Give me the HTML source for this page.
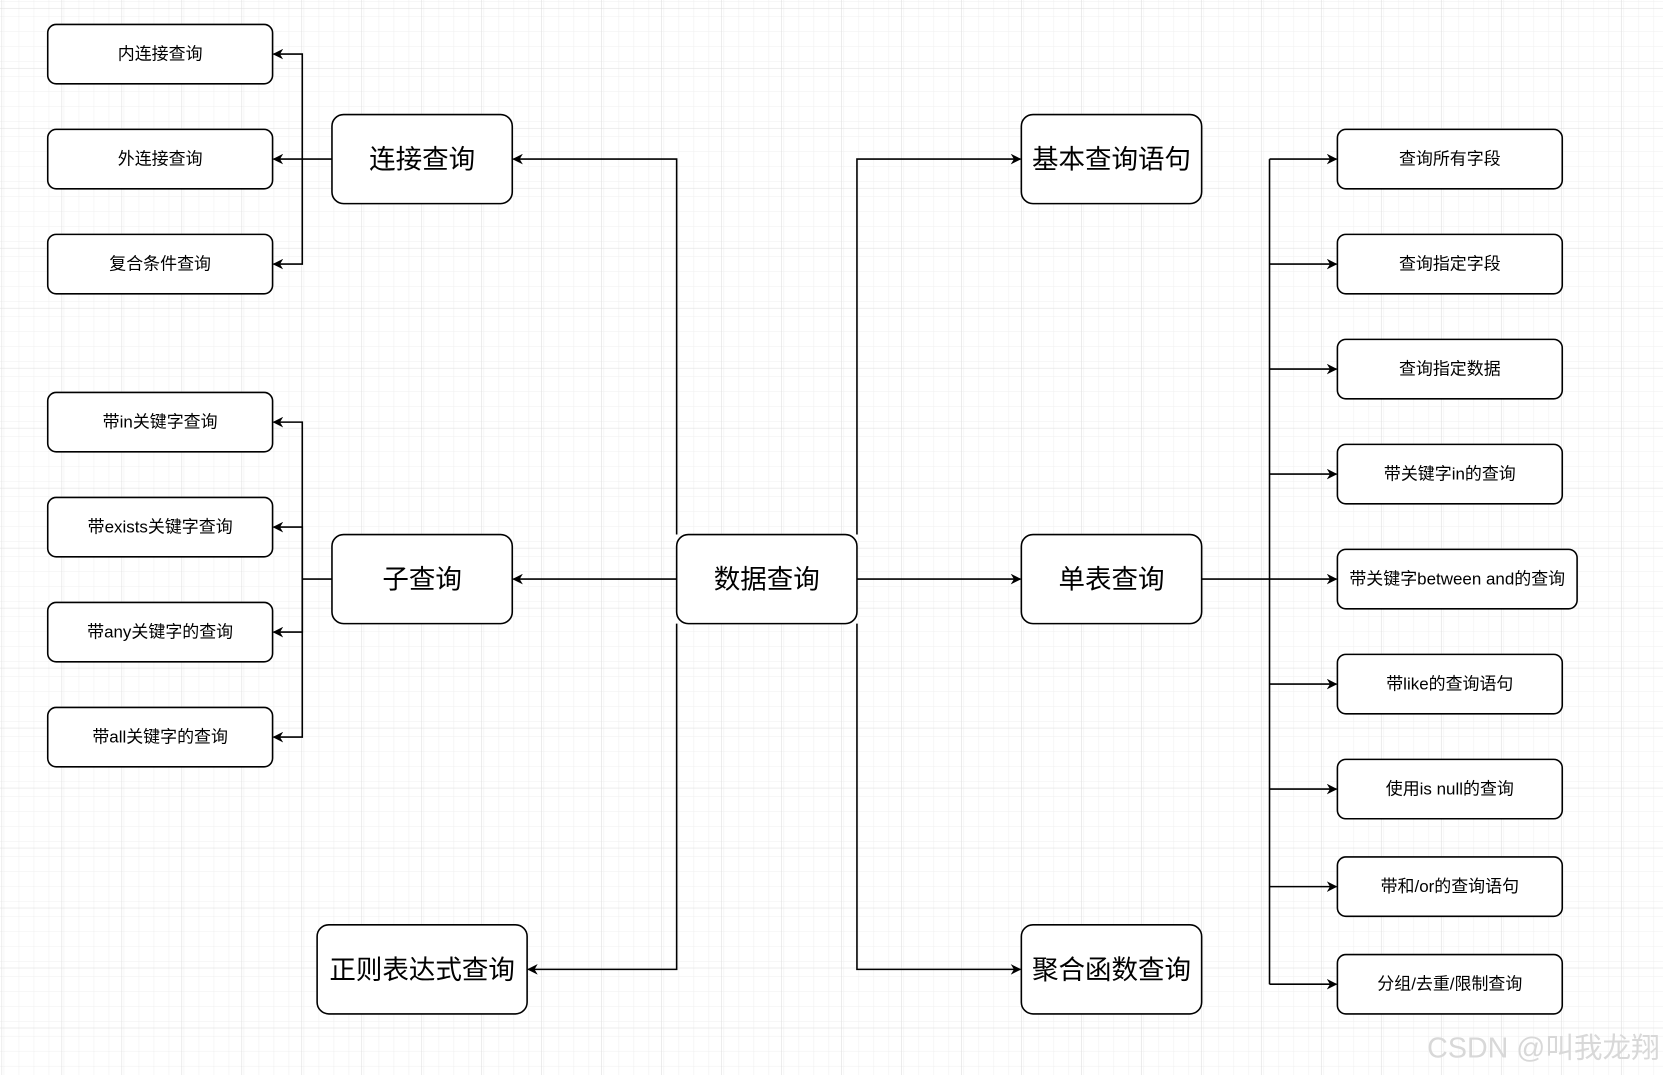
<!DOCTYPE html>
<html><head><meta charset="utf-8"><style>
html,body{margin:0;padding:0;background:#fff;}
svg{display:block;}
text{font-family:"Liberation Sans","Noto Sans CJK SC",sans-serif;fill:#000;}
</style></head><body>
<svg width="1663" height="1075" viewBox="0 0 1568 1013.6" preserveAspectRatio="none" xmlns="http://www.w3.org/2000/svg">
<defs>
<pattern id="mi" width="14.14" height="14.14" patternUnits="userSpaceOnUse" x="2" y="8">
<path d="M14.14 0V14.14M0 14.14H14.14" stroke="#efefef" stroke-width="1" fill="none"/></pattern>
<pattern id="ma" width="56.56" height="56.56" patternUnits="userSpaceOnUse" x="2" y="8">
<rect width="56.56" height="56.56" fill="url(#mi)"/>
<path d="M56.56 0V56.56M0 56.56H56.56" stroke="#dcdcdc" stroke-width="1" fill="none"/></pattern>
<marker id="a" viewBox="0 0 10 10" refX="9" refY="5" markerWidth="10" markerHeight="10" markerUnits="userSpaceOnUse" orient="auto">
<path d="M0 0L10 5L0 10L3 5Z" fill="#000"/></marker>
</defs>
<rect width="1568" height="1014" fill="url(#ma)"/>
<g stroke="#000" stroke-width="1.5" fill="none">
<!-- left cluster 1 -->
<path d="M313 150H285"/>
<path d="M285 150V51H258" marker-end="url(#a)"/>
<path d="M285 150H258" marker-end="url(#a)"/>
<path d="M285 150V249H258" marker-end="url(#a)"/>
<!-- left cluster 2 -->
<path d="M313 546H285"/>
<path d="M285 546V398H258" marker-end="url(#a)"/>
<path d="M285 546V497H258" marker-end="url(#a)"/>
<path d="M285 546V596H258" marker-end="url(#a)"/>
<path d="M285 546V695H258" marker-end="url(#a)"/>
<!-- center -->
<path d="M638 504V150H484" marker-end="url(#a)"/>
<path d="M638 546H484" marker-end="url(#a)"/>
<path d="M638 588V914H498" marker-end="url(#a)"/>
<path d="M808 504V150H962" marker-end="url(#a)"/>
<path d="M808 546H962" marker-end="url(#a)"/>
<path d="M808 588V914H962" marker-end="url(#a)"/>
<!-- right -->
<path d="M1133 546H1197"/>
<path d="M1197 150V928"/>
<path d="M1197 150H1260" marker-end="url(#a)"/>
<path d="M1197 249H1260" marker-end="url(#a)"/>
<path d="M1197 348H1260" marker-end="url(#a)"/>
<path d="M1197 447H1260" marker-end="url(#a)"/>
<path d="M1197 546H1260" marker-end="url(#a)"/>
<path d="M1197 645H1260" marker-end="url(#a)"/>
<path d="M1197 744H1260" marker-end="url(#a)"/>
<path d="M1197 836H1260" marker-end="url(#a)"/>
<path d="M1197 928H1260" marker-end="url(#a)"/>
</g>
<g stroke="#000" stroke-width="1.5" fill="#fff">
<rect x="45" y="23" width="212" height="56" rx="8"/>
<rect x="45" y="122" width="212" height="56" rx="8"/>
<rect x="45" y="221" width="212" height="56" rx="8"/>
<rect x="45" y="370" width="212" height="56" rx="8"/>
<rect x="45" y="469" width="212" height="56" rx="8"/>
<rect x="45" y="568" width="212" height="56" rx="8"/>
<rect x="45" y="667" width="212" height="56" rx="8"/>
<rect x="313" y="108" width="170" height="84" rx="11"/>
<rect x="313" y="504" width="170" height="84" rx="11"/>
<rect x="299" y="872" width="198" height="84" rx="11"/>
<rect x="638" y="504" width="170" height="84" rx="11"/>
<rect x="963" y="108" width="170" height="84" rx="11"/>
<rect x="963" y="504" width="170" height="84" rx="11"/>
<rect x="963" y="872" width="170" height="84" rx="11"/>
<rect x="1261" y="122" width="212" height="56" rx="8"/>
<rect x="1261" y="221" width="212" height="56" rx="8"/>
<rect x="1261" y="320" width="212" height="56" rx="8"/>
<rect x="1261" y="419" width="212" height="56" rx="8"/>
<rect x="1261" y="518" width="226" height="56" rx="8"/>
<rect x="1261" y="617" width="212" height="56" rx="8"/>
<rect x="1261" y="716" width="212" height="56" rx="8"/>
<rect x="1261" y="808" width="212" height="56" rx="8"/>
<rect x="1261" y="900" width="212" height="56" rx="8"/>
</g>
<g font-size="16" text-anchor="middle">
<text x="151" y="56">内连接查询</text>
<text x="151" y="155">外连接查询</text>
<text x="151" y="254">复合条件查询</text>
<text x="151" y="403">带in关键字查询</text>
<text x="151" y="502">带exists关键字查询</text>
<text x="151" y="601">带any关键字的查询</text>
<text x="151" y="700">带all关键字的查询</text>
<text x="1367" y="155">查询所有字段</text>
<text x="1367" y="254">查询指定字段</text>
<text x="1367" y="353">查询指定数据</text>
<text x="1367" y="452">带关键字in的查询</text>
<text x="1374" y="551">带关键字between and的查询</text>
<text x="1367" y="650">带like的查询语句</text>
<text x="1367" y="749">使用is null的查询</text>
<text x="1367" y="841">带和/or的查询语句</text>
<text x="1367" y="933">分组/去重/限制查询</text>
</g>
<g font-size="25" text-anchor="middle">
<text x="398" y="159">连接查询</text>
<text x="398" y="555">子查询</text>
<text x="398" y="923">正则表达式查询</text>
<text x="723" y="555">数据查询</text>
<text x="1048" y="159">基本查询语句</text>
<text x="1048" y="555">单表查询</text>
<text x="1048" y="923">聚合函数查询</text>
</g>
<text x="1565" y="997" font-size="27" text-anchor="end" style="fill:#d8d8d8">CSDN @叫我龙翔</text>
</svg>
</body></html>
